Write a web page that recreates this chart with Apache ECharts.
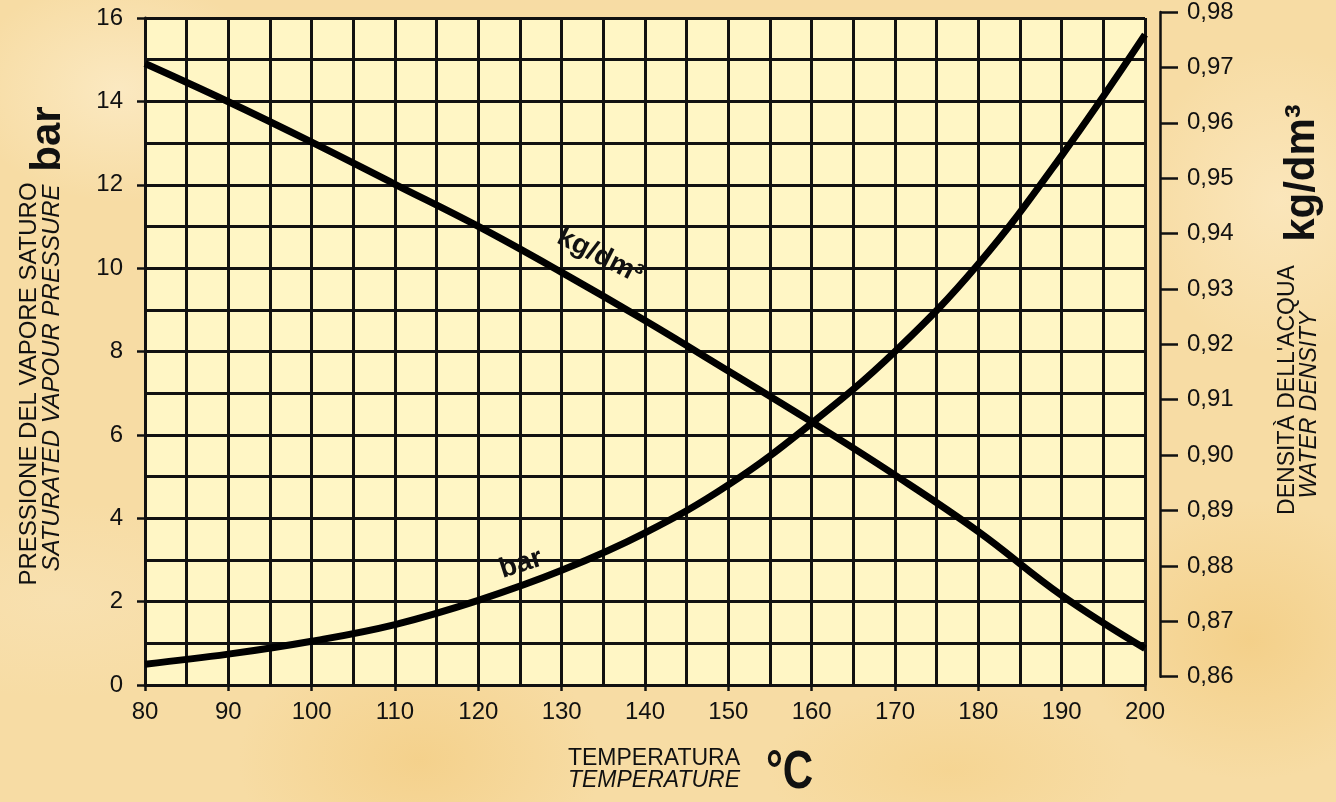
<!DOCTYPE html>
<html>
<head>
<meta charset="utf-8">
<script src="https://cdn.jsdelivr.net/npm/echarts@6/dist/echarts.min.js"></script>
<style>
html,body{margin:0;padding:0;width:1336px;height:802px;overflow:hidden;}
body{
  background-color:#f7dca4;
  background-image:
    radial-gradient(ellipse 220px 160px at 120px 90px, rgba(252,236,200,0.8), rgba(252,236,200,0) 70%),
    radial-gradient(ellipse 260px 180px at 420px 760px, rgba(242,200,120,0.55), rgba(242,200,120,0) 70%),
    radial-gradient(ellipse 240px 200px at 1250px 640px, rgba(240,196,112,0.5), rgba(240,196,112,0) 70%),
    radial-gradient(ellipse 200px 220px at 1280px 200px, rgba(252,234,196,0.7), rgba(252,234,196,0) 70%),
    radial-gradient(ellipse 300px 140px at 60px 600px, rgba(248,226,180,0.7), rgba(248,226,180,0) 70%),
    radial-gradient(ellipse 260px 120px at 950px 770px, rgba(244,206,130,0.5), rgba(244,206,130,0) 70%);
}
#chart{width:1336px;height:802px;}
</style>
</head>
<body>
<div id="chart"></div>
<script>
// ---- data ----
var temperatures = [80, 90, 100, 110, 120, 130, 140, 150, 160, 170, 180, 190, 200];
var vapourPressureBar = [0.5, 0.74, 1.05, 1.45, 2.03, 2.75, 3.65, 4.8, 6.28, 8.0, 10.1, 12.7, 15.6];
var waterDensity = [0.9707, 0.9638, 0.9565, 0.9489, 0.9413, 0.9330, 0.9243, 0.9152, 0.9060, 0.8964, 0.8862, 0.8747, 0.8651];
var tempAxis = {min: 80, max: 200, step: 10};
var pressureAxis = {min: 0, max: 16, step: 2};
var densityAxis = {min: 0.86, max: 0.98, step: 0.01};

var FONT = '"Liberation Sans", Arial, Helvetica, sans-serif';
var INK = '#111';

function pairs(xs, ys){ return xs.map(function(x,i){ return [x, ys[i]]; }); }

var chart = echarts.init(document.getElementById('chart'), null, {renderer:'canvas'});

var option = {
  backgroundColor: 'transparent',
  animation: false,
  grid: [
    {left:145, right:191, top:18, bottom:117, show:true, backgroundColor:'#fff6c5', borderWidth:0, containLabel:false},
    {left:145, right:191, top:11.7, bottom:125.3, show:false, containLabel:false}
  ],
  xAxis: [
    {
      gridIndex:0, type:'value', min:tempAxis.min, max:tempAxis.max, interval:tempAxis.step,
      axisLine:{show:true, onZero:false, lineStyle:{color:INK, width:3}},
      axisTick:{show:true, length:6, lineStyle:{color:INK, width:2.5}},
      axisLabel:{color:INK, fontSize:24, fontFamily:FONT, margin:15},
      splitLine:{show:true, lineStyle:{color:INK, width:3}},
      minorTick:{show:false, splitNumber:2},
      minorSplitLine:{show:true, lineStyle:{color:INK, width:3}}
    },
    {
      gridIndex:1, type:'value', min:tempAxis.min, max:tempAxis.max, show:false
    }
  ],
  yAxis: [
    {
      gridIndex:0, type:'value', min:pressureAxis.min, max:pressureAxis.max, interval:pressureAxis.step,
      axisLine:{show:true, onZero:false, lineStyle:{color:INK, width:3}},
      axisTick:{show:true, length:8, lineStyle:{color:INK, width:2.5}},
      axisLabel:{color:INK, fontSize:24, fontFamily:FONT, margin:22, padding:[9,0,0,0]},
      splitLine:{show:true, lineStyle:{color:INK, width:3}},
      minorTick:{show:false, splitNumber:2},
      minorSplitLine:{show:true, lineStyle:{color:INK, width:3}}
    },
    {
      gridIndex:1, type:'value', position:'right', offset:15,
      min:densityAxis.min, max:densityAxis.max, interval:densityAxis.step,
      axisLine:{show:true, onZero:false, lineStyle:{color:INK, width:2.5}},
      axisTick:{show:true, inside:false, length:18, lineStyle:{color:INK, width:2.5}},
      axisLabel:{color:INK, fontSize:24, fontFamily:FONT, margin:27, padding:[9,0,0,0],
        formatter:function(v){ return v.toFixed(2).replace('.', ','); }},
      splitLine:{show:false}
    }
  ],
  series: [
    {
      name:'bar', type:'line', xAxisIndex:0, yAxisIndex:0,
      data: pairs(temperatures, vapourPressureBar),
      smooth:0.4, symbol:'none',
      lineStyle:{color:'#000', width:7}
    },
    {
      name:'kg/dm³', type:'line', xAxisIndex:1, yAxisIndex:1,
      data: pairs(temperatures, waterDensity),
      smooth:0.4, symbol:'none',
      lineStyle:{color:'#000', width:7}
    }
  ],
  graphic: [
    // left axis title
    {type:'text', x:29, y:384, rotation:Math.PI/2,
      style:{text:'PRESSIONE DEL VAPORE SATURO', font:'24px '+FONT, fill:INK, align:'center', verticalAlign:'middle'}},
    {type:'text', x:52, y:378, rotation:Math.PI/2,
      style:{text:'SATURATED VAPOUR PRESSURE', font:'italic 24px '+FONT, fill:INK, align:'center', verticalAlign:'middle'}},
    {type:'text', x:48, y:139, rotation:Math.PI/2,
      style:{text:'bar', font:'bold 42px '+FONT, fill:INK, align:'center', verticalAlign:'middle'}},
    // right axis title
    {type:'text', x:1288, y:390, rotation:Math.PI/2,
      style:{text:'DENSITÀ DELL\'ACQUA', font:'23px '+FONT, fill:INK, align:'center', verticalAlign:'middle'}},
    {type:'text', x:1310, y:405, rotation:Math.PI/2,
      style:{text:'WATER DENSITY', font:'italic 23px '+FONT, fill:INK, align:'center', verticalAlign:'middle'}},
    {type:'text', x:1302, y:173, rotation:Math.PI/2,
      style:{text:'kg/dm³', font:'bold 42px '+FONT, fill:INK, align:'center', verticalAlign:'middle'}},
    // bottom axis title
    {type:'text', x:740, y:759,
      style:{text:'TEMPERATURA', font:'23px '+FONT, fill:INK, align:'right', verticalAlign:'middle'}},
    {type:'text', x:740, y:781,
      style:{text:'TEMPERATURE', font:'italic 23px '+FONT, fill:INK, align:'right', verticalAlign:'middle'}},
    {type:'text', x:766, y:773, scaleX:0.78,
      style:{text:'°C', font:'bold 54px '+FONT, fill:INK, align:'left', verticalAlign:'middle'}},
    // curve labels
    {type:'text', x:600, y:256, rotation:-27*Math.PI/180,
      style:{text:'kg/dm³', font:'bold 28px '+FONT, fill:INK, align:'center', verticalAlign:'middle'}},
    {type:'text', x:521, y:564, rotation:18*Math.PI/180,
      style:{text:'bar', font:'bold 28px '+FONT, fill:INK, align:'center', verticalAlign:'middle'}}
  ]
};
chart.setOption(option);
</script>
</body>
</html>
